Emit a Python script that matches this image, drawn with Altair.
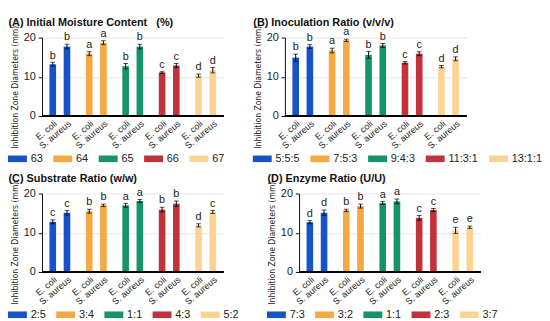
import altair as alt
import pandas as pd

species = ["E. coli", "S. aureus"]
colors = ["#1553c7", "#f6a940", "#15946a", "#c1323a", "#fdd394"]

titles = [
    "(A) Initial Moisture Content \u00a0\u00a0(%)",
    "(B) Inoculation Ratio (v/v/v)",
    "(C) Substrate Ratio (w/w)",
    "(D) Enzyme Ratio (U/U)",
]

levels_a = ["63", "64", "65", "66", "67"]
ecoli_a = [13.2, 15.9, 12.7, 11.1, 10.3]
ecoli_err_a = [0.5, 0.5, 0.7, 0.2, 0.4]
ecoli_let_a = ["b", "a", "b", "c", "d"]
saureus_a = [17.7, 18.7, 17.7, 12.9, 11.7]
saureus_err_a = [0.6, 0.5, 0.6, 0.5, 0.7]
saureus_let_a = ["b", "a", "b", "c", "d"]

levels_b = ["5:5:5", "7:5:3", "9:4:3", "11:3:1", "13:1:1"]
ecoli_b = [14.9, 16.7, 15.6, 13.6, 12.6]
ecoli_err_b = [0.9, 0.6, 0.9, 0.3, 0.3]
ecoli_let_b = ["b", "a", "b", "c", "d"]
saureus_b = [17.7, 19.3, 18.0, 15.9, 14.6]
saureus_err_b = [0.5, 0.3, 0.5, 0.5, 0.5]
saureus_let_b = ["b", "a", "b", "c", "d"]

levels_c = ["2:5", "3:4", "1:1", "4:3", "5:2"]
ecoli_c = [12.8, 15.5, 17.0, 15.9, 11.9]
ecoli_err_c = [0.5, 0.5, 0.5, 0.6, 0.4]
ecoli_let_c = ["c", "b", "a", "b", "d"]
saureus_c = [15.1, 17.0, 18.1, 17.4, 15.3]
saureus_err_c = [0.6, 0.3, 0.4, 0.7, 0.4]
saureus_let_c = ["c", "b", "a", "b", "c"]

levels_d = ["7:3", "3:2", "1:1", "2:3", "3:7"]
ecoli_d = [12.7, 15.7, 17.6, 13.8, 10.6]
ecoli_err_d = [0.4, 0.3, 0.4, 0.6, 0.8]
ecoli_let_d = ["d", "b", "a", "c", "e"]
saureus_d = [15.1, 16.8, 18.0, 15.8, 11.4]
saureus_err_d = [0.7, 0.5, 0.6, 0.4, 0.3]
saureus_let_d = ["d", "b", "a", "c", "e"]

FONT = "Liberation Sans"
NARROW = "DejaVu Sans Condensed, Roboto, sans-serif"
W, H = 192, 83


def panel(title, levels, em, ee, el, sm, se, sl, legend_x, title_x):
    rows = []
    for i, lv in enumerate(levels):
        rows.append(dict(level=lv, species=species[0], mean=em[i], lo=em[i] - ee[i], hi=em[i] + ee[i], letter=el[i]))
        rows.append(dict(level=lv, species=species[1], mean=sm[i], lo=sm[i] - se[i], hi=sm[i] + se[i], letter=sl[i]))
    df = pd.DataFrame(rows)
    xenc = alt.X("level:N", sort=levels,
                 scale=alt.Scale(paddingInner=0.22, paddingOuter=0.1),
                 axis=alt.Axis(orient="top", labels=False, ticks=False, domain=False, grid=False,
                               title=title, titleAnchor="start", titleAlign="left",
                               titleX=title_x, titleY=-22, titleBaseline="top",
                               titleFont=FONT, titleFontSize=11.5, titleFontWeight="bold",
                               titleColor="#111"))
    xoff = alt.XOffset("species:N", sort=species)
    yscale = alt.Scale(domain=[0, 20])
    base = alt.Chart(df).encode(x=xenc, xOffset=xoff)
    bars = base.mark_bar(width=7).encode(
        y=alt.Y("mean:Q", scale=yscale,
                axis=alt.Axis(values=[0, 5, 10, 15, 20], title="Inhibition Zone Diameters (mm)",
                              titleFont=NARROW, titleFontSize=9, titleFontWeight="normal",
                              titleColor="#222", titlePadding=4, titleY=52,
                              labelFont=FONT, labelFontSize=11.5, labelColor="#222",
                              domainColor="black", tickColor="black", tickSize=4,
                              gridColor="#e6e6e6", labelPadding=3)),
        color=alt.Color("level:N", sort=levels,
                        scale=alt.Scale(domain=levels, range=colors),
                        legend=alt.Legend(title=None, orient="none", direction="horizontal",
                                          legendX=legend_x, legendY=H + 35,
                                          symbolType="M-1,-0.35L1,-0.35L1,0.35L-1,0.35Z",
                                          symbolSize=400, symbolStrokeWidth=0,
                                          labelFont=FONT, labelFontSize=11.5, labelColor="#222",
                                          labelOffset=4, columnPadding=11)),
    )
    baseline = alt.Chart(df).mark_rule(color="black", strokeWidth=1).encode(y=alt.datum(0, scale=yscale))
    err = base.mark_rule(color="black", strokeWidth=1).encode(y="lo:Q", y2="hi:Q")
    cap_hi = base.mark_tick(color="black", size=5, thickness=1).encode(y="hi:Q")
    cap_lo = base.mark_tick(color="black", size=5, thickness=1).encode(y="lo:Q")
    letters = base.mark_text(font=FONT, fontSize=11.5, baseline="bottom", dy=-2, color="#222").encode(
        y="hi:Q", text="letter:N")
    labels = base.mark_text(font=FONT, fontSize=9.5, angle=320, align="right", baseline="top",
                            color="#222").encode(y=alt.value(H + 3), text="species:N")
    return alt.layer(bars, baseline, err, cap_hi, cap_lo, letters, labels).properties(width=W, height=H)


pa = panel(titles[0], levels_a, ecoli_a, ecoli_err_a, ecoli_let_a, saureus_a, saureus_err_a, saureus_let_a, -36, -36)
pb = panel(titles[1], levels_b, ecoli_b, ecoli_err_b, ecoli_let_b, saureus_b, saureus_err_b, saureus_let_b, -34, -34)
pc = panel(titles[2], levels_c, ecoli_c, ecoli_err_c, ecoli_let_c, saureus_c, saureus_err_c, saureus_let_c, -36, -36)
pd_ = panel(titles[3], levels_d, ecoli_d, ecoli_err_d, ecoli_let_d, saureus_d, saureus_err_d, saureus_let_d, -34, -34)

row1 = alt.hconcat(pa, pb, spacing=30).resolve_scale(color="independent", x="independent")
row2 = alt.hconcat(pc, pd_, spacing=30).resolve_scale(color="independent", x="independent")
chart = alt.vconcat(row1, row2, spacing=9).resolve_scale(color="independent").configure_view(
    stroke=None).properties(padding={"left": 0, "top": 0, "right": 0, "bottom": 0})

chart.save("out.html", embed_options={"renderer": "svg", "actions": False})
